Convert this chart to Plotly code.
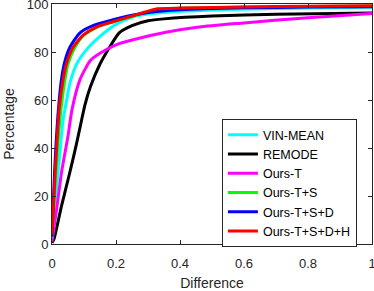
import plotly.graph_objects as go

names = ["VIN-MEAN", "REMODE", "Ours-T", "Ours-T+S", "Ours-T+S+D", "Ours-T+S+D+H"]
colors = ["#00ffff", "#000000", "#ff00ff", "#00ff00", "#0000ff", "#ff0000"]

vin_x = [0, 0.019, 0.035, 0.046, 0.056, 0.077, 0.108, 0.15, 0.2, 0.25, 0.3, 0.37, 0.59, 0.8, 1.0]
vin_y = [2, 30, 52, 60, 67, 75, 81, 86.5, 91.5, 94.5, 95.8, 96.7, 97.8, 98.3, 98.6]

remode_x = [0, 0.006, 0.03, 0.056, 0.077, 0.093, 0.103, 0.12, 0.15, 0.18, 0.21, 0.25, 0.3, 0.35, 0.5, 0.7, 1.0]
remode_y = [0.5, 2, 16, 30, 42, 52, 58, 65.5, 75, 82, 88, 91, 93, 93.8, 95, 95.7, 96.3]

t_x = [0, 0.015, 0.03, 0.05, 0.0625, 0.0875, 0.12, 0.15, 0.2, 0.25, 0.36, 0.46, 0.59, 0.8, 1.0]
t_y = [1, 15, 30, 45, 56, 68.5, 76.5, 79.5, 83, 85, 88.3, 90.4, 92, 94.3, 96]

ts_x = [0, 0.012, 0.027, 0.04, 0.05, 0.07, 0.097, 0.14, 0.19, 0.25, 0.3, 0.33, 0.4, 0.6, 0.8, 1.0]
ts_y = [2.5, 30, 55, 68, 75, 81.5, 86.7, 90.3, 92.5, 94.8, 96.8, 97.8, 98.2, 98.7, 99, 99.2]

tsd_x = [0, 0.008, 0.02, 0.03, 0.04, 0.056, 0.0875, 0.128, 0.18, 0.25, 0.3, 0.4, 0.6, 0.8, 1.0]
tsd_y = [3, 30, 56, 69, 76, 82, 88, 91, 93, 95.3, 96.5, 97.6, 98.4, 98.7, 98.9]

tsdh_x = [0, 0.01, 0.023, 0.034, 0.045, 0.066, 0.097, 0.14, 0.19, 0.25, 0.3, 0.33, 0.4, 0.6, 0.8, 1.0]
tsdh_y = [4, 30, 57, 68, 75, 82, 87, 90.5, 92.6, 95, 97, 98, 98.3, 98.8, 99.1, 99.3]

series = [(vin_x, vin_y), (remode_x, remode_y), (t_x, t_y), (ts_x, ts_y), (tsd_x, tsd_y), (tsdh_x, tsdh_y)]

x_ticks = [0, 0.2, 0.4, 0.6, 0.8, 1]
x_labels = ["0", "0.2", "0.4", "0.6", "0.8", "1"]
y_ticks = [0, 20, 40, 60, 80, 100]

fig = go.Figure()
for name, color, (xs, ys) in zip(names, colors, series):
    fig.add_trace(go.Scatter(x=xs, y=ys, mode="lines", name=name, cliponaxis=False,
                             line=dict(color=color, width=3, shape="spline", smoothing=0.6)))

font_family = "Liberation Sans, Arial, sans-serif"
fig.update_layout(
    width=374, height=291,
    margin=dict(l=52, r=2, t=4, b=47, autoexpand=False),
    paper_bgcolor="white", plot_bgcolor="white",
    font=dict(family=font_family, color="#262626", size=13),
    showlegend=True,
    legend=dict(x=0.531, y=0.52, xanchor="left", yanchor="top",
                bordercolor="#262626", borderwidth=1, bgcolor="white",
                font=dict(size=12.5, color="#000000"), tracegroupgap=0,
                itemwidth=30),
)
fig.update_xaxes(range=[0, 1], tickvals=x_ticks, ticktext=x_labels,
                 ticks="inside", ticklen=4, tickcolor="#262626",
                 showline=True, linecolor="#262626", linewidth=1, mirror="ticks",
                 showgrid=False, zeroline=False, automargin=False,
                 ticklabeloverflow="allow", ticklabelstandoff=7,
                 title=dict(text="Difference", standoff=11, font=dict(size=14)),
                 tickfont=dict(size=13))
fig.update_yaxes(range=[0, 100], tickvals=y_ticks,
                 ticks="inside", ticklen=4, tickcolor="#262626",
                 showline=True, linecolor="#262626", linewidth=1, mirror="ticks",
                 showgrid=False, zeroline=False, automargin=False,
                 ticklabeloverflow="allow",
                 title=dict(text="Percentage", standoff=8, font=dict(size=14)),
                 tickfont=dict(size=13))

fig.write_html("out.html", config={"displayModeBar": False},
               post_script="document.body.style.margin='0';document.body.style.padding='0';")
